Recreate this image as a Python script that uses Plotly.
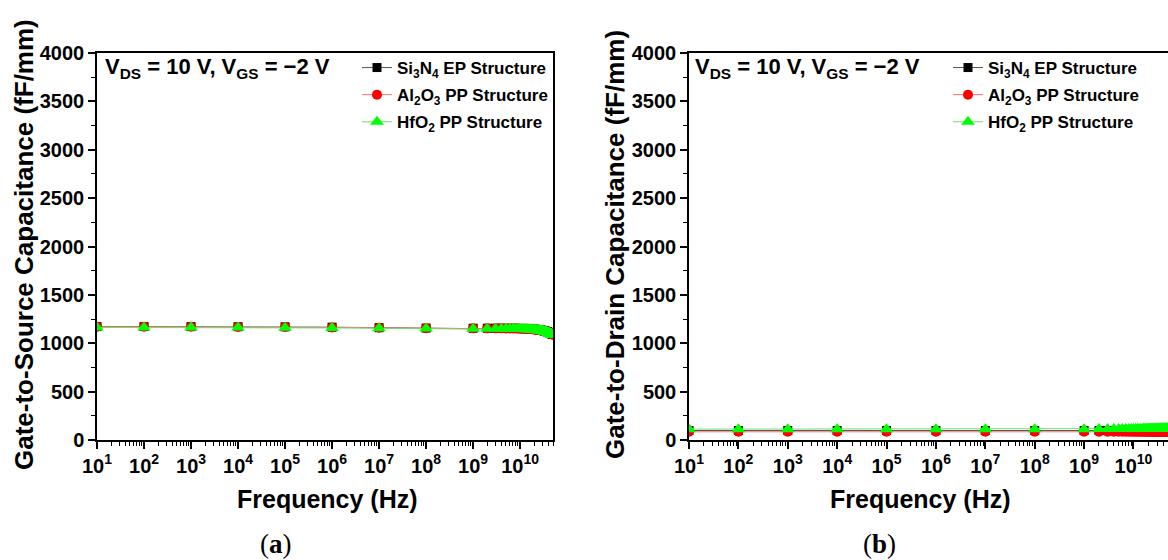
import plotly.graph_objects as go

W, H = 1168, 560

freq = [1e1, 1e2, 1e3, 1e4, 1e5, 1e6, 1e7, 1e8, 1e9,
        2e9, 3e9, 4e9, 5e9, 6e9, 7e9, 8e9, 9e9, 10e9, 11e9, 12e9, 13e9, 14e9, 15e9,
        16e9, 17e9, 18e9, 19e9, 20e9, 21e9, 22e9, 23e9, 24e9, 25e9, 26e9, 27e9, 28e9,
        29e9, 30e9, 31e9, 32e9, 33e9, 34e9, 35e9, 36e9, 37e9, 38e9, 39e9, 40e9, 41e9,
        42e9, 43e9, 44e9, 45e9, 46e9, 47e9, 48e9, 49e9, 50e9]

# (a) Gate-to-Source capacitance (fF/mm)
cgs_si3n4 = [1172, 1172, 1172, 1171, 1170, 1166, 1161, 1157, 1155,
             1155, 1155, 1155, 1154, 1154, 1154, 1153, 1153, 1152, 1152, 1151, 1150, 1150, 1149,
             1148, 1147, 1146, 1145, 1145, 1144, 1142, 1141, 1140, 1139, 1138, 1136, 1135,
             1134, 1132, 1131, 1129, 1127, 1125, 1123, 1122, 1120, 1118, 1116, 1113, 1111,
             1109, 1107, 1104, 1102, 1100, 1097, 1095, 1092, 1090]
cgs_al2o3 = [1170, 1170, 1170, 1169, 1168, 1164, 1160, 1156, 1154,
             1154, 1154, 1154, 1153, 1153, 1153, 1152, 1152, 1151, 1151, 1150, 1149, 1149, 1148,
             1147, 1146, 1145, 1144, 1144, 1143, 1141, 1140, 1139, 1138, 1137, 1135, 1134,
             1133, 1131, 1130, 1128, 1126, 1124, 1122, 1121, 1119, 1117, 1115, 1112, 1110,
             1108, 1106, 1103, 1101, 1099, 1096, 1094, 1091, 1089]
cgs_hfo2 = [1163, 1163, 1163, 1162, 1161, 1158, 1155, 1152, 1150,
            1150, 1150, 1150, 1149, 1149, 1149, 1148, 1148, 1147, 1147, 1146, 1145, 1145, 1144,
            1143, 1142, 1141, 1140, 1140, 1139, 1137, 1136, 1135, 1134, 1133, 1131, 1130,
            1129, 1127, 1126, 1124, 1122, 1120, 1118, 1117, 1115, 1113, 1111, 1108, 1106,
            1104, 1102, 1099, 1097, 1095, 1092, 1090, 1087, 1085]

# (b) Gate-to-Drain capacitance (fF/mm)
cgd_si3n4 = [98, 98, 98, 98, 98, 98, 98, 98, 98,
             98, 98, 98, 98, 98, 98, 98, 98, 98, 98, 98, 98, 98, 98,
             98, 98, 98, 98, 98, 98, 98, 98, 98, 98, 98, 98, 98,
             98, 98, 98, 98, 98, 98, 98, 98, 98, 98, 98, 98, 98,
             98, 98, 98, 98, 98, 98, 98, 98, 98]
cgd_al2o3 = [85, 85, 85, 85, 85, 85, 85, 85, 85,
             85, 85, 85, 85, 85, 85, 85, 85, 85, 85, 85, 85, 85, 85,
             85, 85, 85, 85, 85, 85, 85, 85, 85, 85, 85, 85, 85,
             85, 85, 85, 85, 85, 85, 85, 85, 85, 85, 85, 85, 85,
             85, 85, 85, 85, 85, 85, 85, 85, 85]
cgd_hfo2 = [112, 112, 112, 112, 112, 112, 112, 112, 112,
            113, 113, 113, 113, 113, 113, 113, 114, 114, 114, 114, 114, 114, 114,
            115, 115, 115, 115, 115, 115, 115, 116, 116, 116, 116, 116, 116,
            117, 117, 117, 117, 117, 117, 118, 118, 118, 118, 118, 119, 119,
            119, 119, 119, 120, 120, 120, 120, 120, 120]

series_names = ["<b>Si<sub>3</sub>N<sub>4</sub> EP Structure</b>",
                "<b>Al<sub>2</sub>O<sub>3</sub> PP Structure</b>",
                "<b>HfO<sub>2</sub> PP Structure</b>"]
marker_colors = ["#000000", "#ff0000", "#00ff00"]
line_colors = ["#555555", "#ff7070", "#70e070"]
symbols = ["square", "circle", "triangle-up"]
sizes = [9, 10, 12]

x_tickvals = [1e1, 1e2, 1e3, 1e4, 1e5, 1e6, 1e7, 1e8, 1e9, 1e10]
x_ticktext = ["10<sup>1</sup>", "10<sup>2</sup>", "10<sup>3</sup>", "10<sup>4</sup>",
              "10<sup>5</sup>", "10<sup>6</sup>", "10<sup>7</sup>", "10<sup>8</sup>",
              "10<sup>9</sup>", "10<sup>10</sup>"]
x_minor = [m * 10 ** e for e in range(1, 11) for m in range(2, 10) if m * 10 ** e <= 5e10]

fig = go.Figure()

panel_data = [
    ([cgs_si3n4, cgs_al2o3, cgs_hfo2], "x", "y", "legend"),
    ([cgd_si3n4, cgd_al2o3, cgd_hfo2], "x2", "y2", "legend2"),
]
for series, xa, ya, lg in panel_data:
    for i, vals in enumerate(series):
        fig.add_trace(go.Scatter(
            x=freq, y=vals, xaxis=xa, yaxis=ya, mode="lines+markers",
            name=series_names[i], legend=lg, legendgroup=lg + str(i),
            line=dict(color=line_colors[i], width=1),
            marker=dict(symbol=symbols[i], size=sizes[i], color=marker_colors[i],
                        line=dict(width=0)),
        ))

px_x = lambda p: p / W
px_y = lambda p: 1 - p / H

tick_font = dict(family="Liberation Sans, Arial, sans-serif", size=20, color="black", weight="bold")

def xaxis_cfg(d0, d1, anchor):
    return dict(domain=[d0, d1], type="log", range=[1, 10.699], anchor=anchor,
                automargin=False,
                tickvals=x_tickvals, ticktext=x_ticktext, ticks="outside", ticklen=7,
                tickwidth=1.5, tickcolor="black", showline=True, linecolor="black",
                linewidth=1.5, mirror=True, showgrid=False, zeroline=False,
                tickfont=tick_font,
                minor=dict(tickvals=x_minor, ticks="outside", ticklen=4, tickwidth=1.2,
                           tickcolor="black", showgrid=False))

def yaxis_cfg(anchor):
    return dict(domain=[px_y(440), px_y(53)], range=[0, 4000], anchor=anchor,
                automargin=False,
                tickvals=[0, 500, 1000, 1500, 2000, 2500, 3000, 3500, 4000],
                ticks="outside", ticklen=7, tickwidth=1.5, tickcolor="black",
                showline=True, linecolor="black", linewidth=1.5, mirror=True,
                showgrid=False, zeroline=False, tickfont=tick_font,
                minor=dict(dtick=250, ticks="outside", ticklen=4, tickwidth=1.2,
                           tickcolor="black", showgrid=False))

legend_font = dict(family="Liberation Sans, Arial, sans-serif", size=17, color="black")

fig.update_layout(
    template="none",
    width=W, height=H, margin=dict(l=0, r=0, t=0, b=0, autoexpand=False),
    paper_bgcolor="white", plot_bgcolor="white",
    xaxis=xaxis_cfg(px_x(97), px_x(553), "y"),
    yaxis=yaxis_cfg("x"),
    xaxis2=xaxis_cfg(px_x(689), 1.0, "y2"),
    yaxis2=yaxis_cfg("x2"),
    legend=dict(x=px_x(357), y=px_y(50), xanchor="left", yanchor="top",
                bgcolor="rgba(0,0,0,0)", font=legend_font, traceorder="grouped",
                tracegroupgap=2, itemwidth=30),
    legend2=dict(x=px_x(948), y=px_y(50), xanchor="left", yanchor="top",
                 bgcolor="rgba(0,0,0,0)", font=legend_font, traceorder="grouped",
                 tracegroupgap=2, itemwidth=30),
    showlegend=True,
)

title_font = dict(family="Liberation Sans, Arial, sans-serif", size=25, color="black")
ytitle_font = dict(family="Liberation Sans, Arial, sans-serif", size=26, color="black")
annot_font = dict(family="Liberation Sans, Arial, sans-serif", size=22, color="black")
label_font = dict(family="Liberation Serif, DejaVu Serif, serif", size=27, color="black")

annotations = [
    dict(text="<b>Frequency (Hz)</b>", x=px_x(327), y=px_y(499), font=title_font),
    dict(text="<b>Frequency (Hz)</b>", x=px_x(920), y=px_y(499), font=title_font),
    dict(text="<b>Gate-to-Source Capacitance (fF/mm)</b>", x=px_x(24), y=px_y(245),
         textangle=-90, font=ytitle_font),
    dict(text="<b>Gate-to-Drain Capacitance (fF/mm)</b>", x=px_x(615), y=px_y(245),
         textangle=-90, font=ytitle_font),
    dict(text="<b>V<sub>DS</sub> = 10 V, V<sub>GS</sub> = \u22122 V</b>", x=px_x(103),
         y=px_y(68), xanchor="left", font=annot_font),
    dict(text="<b>V<sub>DS</sub> = 10 V, V<sub>GS</sub> = \u22122 V</b>", x=px_x(693),
         y=px_y(68), xanchor="left", font=annot_font),
    dict(text="(<b>a</b>)", x=px_x(276), y=px_y(544), font=label_font),
    dict(text="(<b>b</b>)", x=px_x(879), y=px_y(544), font=label_font),
]
for a in annotations:
    a.setdefault("xanchor", "center")
    fig.add_annotation(xref="paper", yref="paper", showarrow=False, yanchor="middle", **a)

fig.write_html("out.html", config={"displayModeBar": False},
               post_script="document.body.style.margin='0';document.body.style.overflow='hidden';")
